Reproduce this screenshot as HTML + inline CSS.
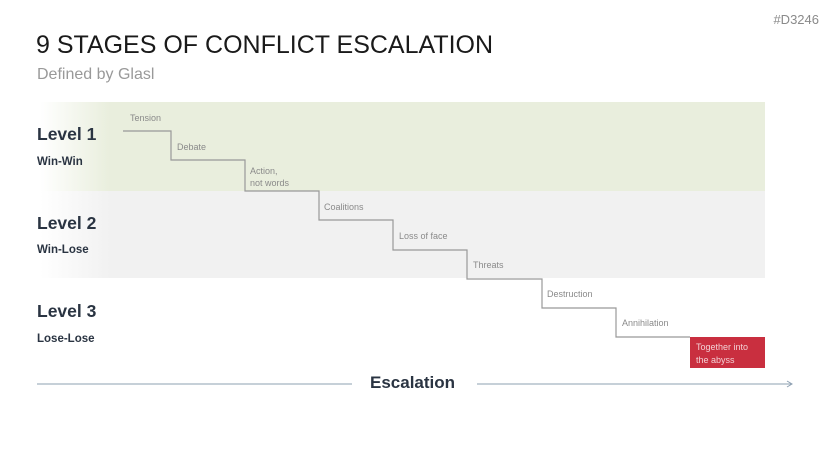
<!DOCTYPE html>
<html><head><style>
body{margin:0;width:829px;height:466px;background:#fff;position:relative;overflow:hidden;font-family:"Liberation Sans",sans-serif}
.a{position:absolute;white-space:nowrap}
.s{font-size:9px;color:#8a8a8a;line-height:12px}
.lv{font-size:17.5px;font-weight:bold;color:#2a3442}
.sb{font-size:11.5px;font-weight:bold;color:#2a3442}
</style></head><body>
<div class="a" style="right:10px;top:12px;font-size:13px;color:#8a8a8a">#D3246</div>
<div class="a" style="left:36px;top:31px;font-size:25px;color:#1a1a1a">9 STAGES OF CONFLICT ESCALATION</div>
<div class="a" style="left:37px;top:66px;font-size:16px;color:#999">Defined by Glasl</div>
<div class="a" style="left:40px;top:102px;width:725px;height:89px;background:linear-gradient(90deg,#fff 0,#e9eedd 70px)"></div>
<div class="a" style="left:40px;top:191px;width:725px;height:87px;background:linear-gradient(90deg,#fff 0,#f1f1f1 70px)"></div>
<div class="a" style="left:690px;top:337px;width:75px;height:31px;background:#c92f3f"></div>
<svg class="a" style="left:0;top:0" width="829" height="466">
<polyline fill="none" stroke="#999" stroke-width="1.2" points="123,131 171,131 171,160 245,160 245,191 319,191 319,220 393,220 393,250 467,250 467,279 542,279 542,308 616,308 616,337 690,337"/>
<line x1="37" y1="384" x2="352" y2="384" stroke="#8ea0b2" stroke-width="1"/>
<line x1="477" y1="384" x2="792" y2="384" stroke="#8ea0b2" stroke-width="1"/>
<polyline points="787,381 792,384 787,387" fill="none" stroke="#8ea0b2"/>
</svg>
<div class="a lv" style="left:37px;top:124px">Level 1</div>
<div class="a sb" style="left:37px;top:156px">Win-Win</div>
<div class="a lv" style="left:37px;top:213px">Level 2</div>
<div class="a sb" style="left:37px;top:244px">Win-Lose</div>
<div class="a lv" style="left:37px;top:301px">Level 3</div>
<div class="a sb" style="left:37px;top:333px">Lose-Lose</div>
<div class="a s" style="left:130px;top:112px">Tension</div>
<div class="a s" style="left:177px;top:141px">Debate</div>
<div class="a s" style="left:250px;top:165px">Action,<br>not words</div>
<div class="a s" style="left:324px;top:201px">Coalitions</div>
<div class="a s" style="left:399px;top:230px">Loss of face</div>
<div class="a s" style="left:473px;top:259px">Threats</div>
<div class="a s" style="left:547px;top:288px">Destruction</div>
<div class="a s" style="left:622px;top:317px">Annihilation</div>
<div class="a s" style="left:696px;top:341px;color:#f3d0d4;line-height:13px">Together into<br>the abyss</div>
<div class="a" style="left:370px;top:373px;font-size:17px;font-weight:bold;color:#2a3442">Escalation</div>
</body></html>
